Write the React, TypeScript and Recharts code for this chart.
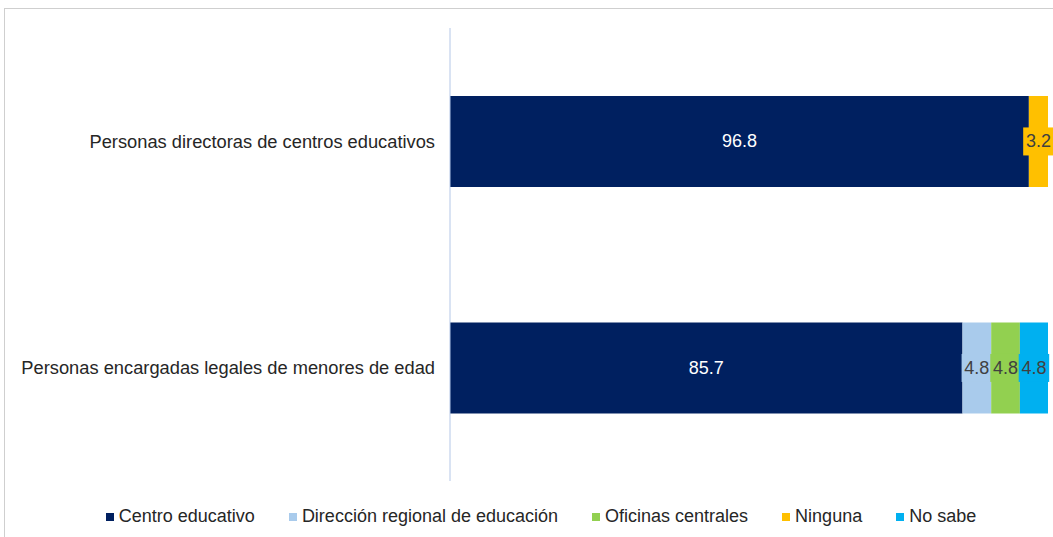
import { BarChart, Bar, XAxis, YAxis, Legend, LabelList } from "recharts";

const groups = [
  "Personas directoras de centros educativos",
  "Personas encargadas legales de menores de edad",
];
const centroEducativo = [96.8, 85.7];
const direccionRegional = [0, 4.8];
const oficinasCentrales = [0, 4.8];
const ninguna = [3.2, 0];
const noSabe = [0, 4.8];

const series = [
  { key: "centro", name: "Centro educativo", values: centroEducativo, color: "#002060", text: "#ffffff" },
  { key: "direccion", name: "Dirección regional de educación", values: direccionRegional, color: "#A9CBEC", text: "#404040" },
  { key: "oficinas", name: "Oficinas centrales", values: oficinasCentrales, color: "#92D050", text: "#404040" },
  { key: "ninguna", name: "Ninguna", values: ninguna, color: "#FFC000", text: "#404040" },
  { key: "nosabe", name: "No sabe", values: noSabe, color: "#00B0F0", text: "#404040" },
];

const data = groups.map((g, i) => {
  const row: Record<string, string | number> = { group: g };
  series.forEach((s) => (row[s.key] = s.values[i]));
  return row;
});

const font = "'Liberation Sans', Arial, sans-serif";

// ─── segment labels ────────────────────────────────────────────────────────

function makeLabel(color: string, text: string, boxed: boolean) {
  return (props: any) => {
    const { x, y, width, height, value } = props;
    if (!value) return null;
    const cx = x + width / 2;
    const cy = y + height / 2;
    const label = Number(value).toFixed(1);
    const w = label.length * 9.5 + 2;
    return (
      <g>
        {boxed && <rect x={cx - w / 2} y={cy - 14} width={w} height={28} fill={color} />}
        <text x={cx} y={cy} fill={text} fontSize={18} fontFamily={font} textAnchor="middle" dominantBaseline="central">
          {label}
        </text>
      </g>
    );
  };
}

function LegendContent() {
  return (
    <div style={{ display: "flex", justifyContent: "center", paddingLeft: 24, fontFamily: font, fontSize: 18, color: "#262626" }}>
      {series.map((s, i) => (
        <span key={s.key} style={{ display: "flex", alignItems: "center", marginRight: i < series.length - 1 ? 34 : 0 }}>
          <span style={{ display: "inline-block", width: 8, height: 8, background: s.color, marginRight: 5 }} />
          {s.name}
        </span>
      ))}
    </div>
  );
}

export default function App() {
  return (
    <div
      style={{
        position: "fixed",
        left: 4,
        top: 8,
        width: 1048,
        height: 528,
        borderTop: "1px solid #cfcfcf",
        borderLeft: "1px solid #cfcfcf",
        background: "#fff",
      }}
    >
      <BarChart
        width={1048}
        height={528}
        data={data}
        layout="vertical"
        barCategoryGap="30%"
        margin={{ top: 19, right: 5, bottom: 35, left: 0 }}
      >
        <XAxis type="number" domain={[0, 100]} allowDataOverflow hide />
        <YAxis
          type="category"
          dataKey="group"
          width={445}
          tickLine={false}
          axisLine={{ stroke: "#B4C7E7" }}
          tickMargin={9}
          tick={{ fill: "#262626", fontSize: 18.3, fontFamily: font }}
        />
        <Legend verticalAlign="bottom" content={<LegendContent />} wrapperStyle={{ top: 497, left: 0, width: 1048 }} />
        {series.map((s) => (
          <Bar key={s.key} dataKey={s.key} name={s.name} stackId="a" fill={s.color} isAnimationActive={false}>
            <LabelList dataKey={s.key} content={makeLabel(s.color, s.text, s.key !== "centro")} />
          </Bar>
        ))}
      </BarChart>
    </div>
  );
}
